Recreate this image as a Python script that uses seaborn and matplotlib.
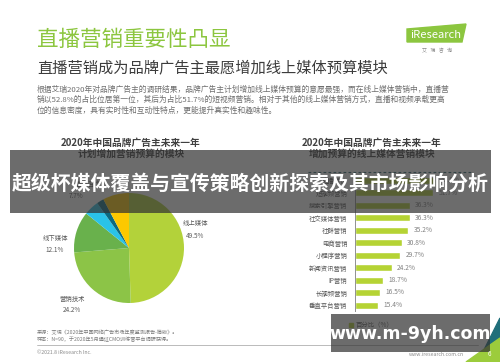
import matplotlib
matplotlib.use('Agg')
import matplotlib.pyplot as plt
import matplotlib.patches as mpatches
import seaborn as sns

# Data
pie_labels = ['线上媒体', '营销技术', '线下媒体', '其他', '公关', '营销咨询']
pie_values = [49.5, 24.2, 12.1, 4.4, 2.1, 7.7]
pie_colors = ['#b3d23a', '#8cc447', '#69b14c', '#2ac3e8', '#0b6a80', '#fcc800']

bar_labels = ['直播营销', '短视频营销', '搜索引擎营销', '社交媒体营销', '社群营销', '电商营销',
              '小程序营销', '新闻资讯营销', 'IP营销', '长视频营销', '垂直平台营销']
bar_values = [52.8, 51.7, 36.3, 36.3, 35.2, 30.8, 29.7, 24.2, 18.7, 16.5, 15.4]

W, H = 500, 362

sns.set_theme(style='white')
plt.rcParams['font.family'] = ['Noto Sans CJK SC', 'DejaVu Sans']


def fx(x):
    return x / W


def fy(y):
    return 1 - y / H


def px_axes(fig, x0, y0, x1, y1):
    return fig.add_axes([fx(x0), fy(y1), (x1 - x0) / W, (y1 - y0) / H])


fig = plt.figure(figsize=(5, 3.62), dpi=100)
fig.patch.set_facecolor('white')

# Header texts
fig.text(fx(37), fy(40), '直播营销重要性凸显', fontsize=15.5, color='#8cc63f', va='center')
fig.text(fx(37), fy(68), '直播营销成为品牌广告主最愿增加线上媒体预算模块', fontsize=11, color='#3c3c3c', va='center')
para = ['根据艾瑞2020年对品牌广告主的调研结果，品牌广告主计划增加线上媒体预算的意愿最强，而在线上媒体营销中，直播营',
        '销以52.8%的占比位居第一位，其后为占比51.7%的短视频营销。相对于其他的线上媒体营销方式，直播和视频承载更高',
        '位的信息密度，具有实时性和互动性特点，更能提升真实性和趣味性。']
for i, line in enumerate(para):
    fig.text(fx(37), fy(90 + i * 10.3), line, fontsize=5.6, color='#6e6e6e', va='center')

# iResearch logo
logo = mpatches.Polygon([(fx(407), fy(29)), (fx(466), fy(24)), (fx(462), fy(42)), (fx(407), fy(42))],
                        closed=True, transform=fig.transFigure, color='#8cc63f')
fig.add_artist(logo)
fig.text(fx(436), fy(35), 'iResearch', fontsize=8, color='white', ha='center', va='center')
fig.text(fx(437), fy(51), '艾   瑞   咨   询', fontsize=3.6, color='#8c8c8c', ha='center', va='center')

# Chart titles
fig.text(fx(131), fy(143), '2020年中国品牌广告主未来一年', fontsize=7, fontweight='bold', color='#404040', ha='center', va='center')
fig.text(fx(131), fy(154), '计划增加营销预算的模块', fontsize=7, fontweight='bold', color='#404040', ha='center', va='center')
fig.text(fx(372), fy(143), '2020年中国品牌广告主未来一年', fontsize=7, fontweight='bold', color='#404040', ha='center', va='center')
fig.text(fx(372), fy(154), '增加预算的线上媒体营销模块', fontsize=7, fontweight='bold', color='#404040', ha='center', va='center')
fig.add_artist(plt.Line2D([fx(308), fx(472)], [fy(172), fy(172)], transform=fig.transFigure,
                          color='#2e6b73', lw=0.8, ls=(0, (2.5, 2))))

# Pie chart
ax_pie = px_axes(fig, 74, 193, 184, 303)
ax_pie.pie(pie_values, colors=pie_colors, startangle=90, counterclock=False,
           wedgeprops=dict(linewidth=0))
ax_pie.set_xlim(-1, 1)
ax_pie.set_ylim(-1, 1)
ax_pie.set_aspect('equal')
pie_text = [(195, 223, '线上媒体'), (195, 236, '49.5%'),
            (55, 238, '线下媒体'), (55, 250, '12.1%'),
            (72, 299, '营销技术'), (72, 310, '24.2%'),
            (88, 184, '营销咨询'), (76, 196, '7.7%')]
for x, y, t in pie_text:
    fig.text(fx(x), fy(y), t, fontsize=4.6, color='#595959', ha='center', va='center')

# Bar chart
ax_bar = px_axes(fig, 355, 173.75, 485, 311.25)
sns.barplot(x=bar_values, y=bar_labels, orient='h', color='#b5d334', width=0.56,
            saturation=1, ax=ax_bar)
ax_bar.set_xlim(0, 130 / 1.515)
ax_bar.set_ylim(10.5, -0.5)
for i, v in enumerate(bar_values):
    ax_bar.text(v + 3.5, i, f'{v}%', fontsize=4.8, color='#808080', va='center')
ax_bar.set_xticks([])
ax_bar.tick_params(axis='y', length=0, pad=5.5, labelsize=4.6, labelcolor='#595959')
for s in ['top', 'right', 'bottom']:
    ax_bar.spines[s].set_visible(False)
ax_bar.spines['left'].set_color('#909090')
ax_bar.spines['left'].set_linewidth(0.7)
ax_bar.set_facecolor('none')

# legend
fig.add_artist(mpatches.Rectangle((fx(349), fy(327)), 4 / W, 4 / H, transform=fig.transFigure, color='#b5d334'))
fig.text(fx(356), fy(325), '百分比（%）', fontsize=4.6, color='#595959', va='center')

# Footer
fig.text(fx(37), fy(333), '来源：艾瑞《2020年中国网络广告市场年度监测报告-简版》。', fontsize=3.7, color='#7a7a7a', va='center')
fig.text(fx(37), fy(339.5), '样本：N=90，于2020年5月通过CMO训练营平台调研获得。', fontsize=3.7, color='#7a7a7a', va='center')
fig.add_artist(plt.Line2D([fx(37), fx(478)], [fy(345), fy(345)], transform=fig.transFigure, color='#b0b0b0', lw=0.6))
fig.text(fx(37), fy(353), '©2021.8 iResearch Inc.', fontsize=3.7, color='#8a8a8a', va='center')
fig.text(fx(436), fy(354), 'www.iresearch.com.cn', fontsize=3.7, color='#8a8a8a', ha='center', va='center')
fig.text(fx(489), fy(354), '6', fontsize=4.5, color='white', ha='center', va='center', zorder=6)
fig.add_artist(mpatches.Polygon([(fx(478), fy(362)), (fx(500), fy(318)), (fx(500), fy(362))],
                                transform=fig.transFigure, color='#1f6f7a', zorder=1))
fig.add_artist(mpatches.Polygon([(fx(466), fy(362)), (fx(500), fy(338)), (fx(500), fy(362))],
                                transform=fig.transFigure, color='#9ccc3c', zorder=1.5))

# Overlay banner and watermark
fig.add_artist(mpatches.Rectangle((fx(10), fy(213)), 481 / W, 63 / H, transform=fig.transFigure,
                                  color='#333333', alpha=0.72, lw=0, zorder=4))
fig.text(fx(250), fy(183), '超级杯媒体覆盖与宣传策略创新探索及其市场影响分析', fontsize=14.3,
         fontweight='bold', color='white', ha='center', va='center', zorder=5)
fig.add_artist(mpatches.Rectangle((fx(331), fy(352)), 159 / W, 38 / H, transform=fig.transFigure,
                                  color='#333333', alpha=0.72, lw=0, zorder=4))
fig.text(fx(410), fy(334), 'www.m-9yh.com', fontsize=12.5, fontweight='bold', color='white',
         ha='center', va='center', zorder=5, family='DejaVu Sans')

fig.savefig('out.png', dpi=100)
